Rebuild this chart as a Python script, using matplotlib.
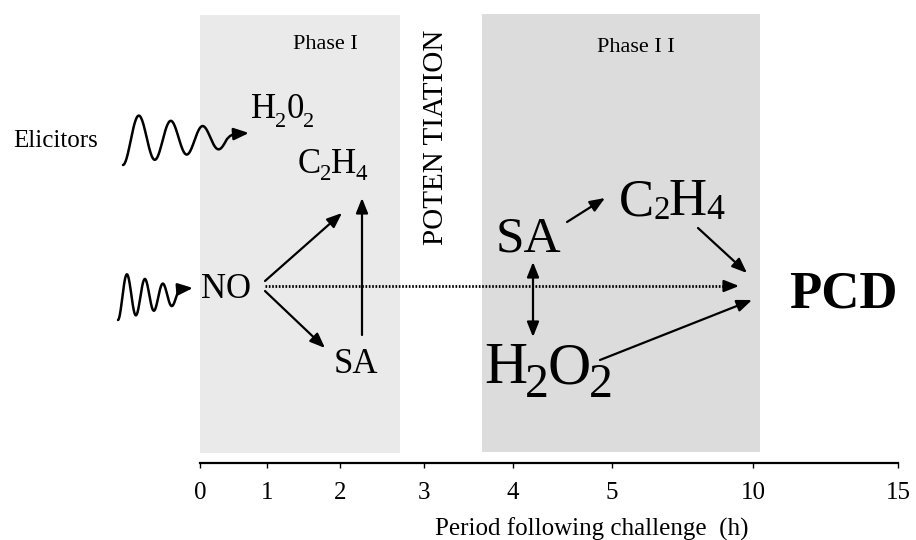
import numpy as np
import matplotlib
matplotlib.use("Agg")
import matplotlib.pyplot as plt
from matplotlib.patches import Rectangle, FancyArrowPatch
from matplotlib.path import Path
from matplotlib import transforms

plt.rcParams['font.family'] = ['Liberation Serif', 'DejaVu Serif']

# ---- data ----
tick_hours = [0, 1, 2, 3, 4, 5, 10, 15]
tick_labels = ['0', '1', '2', '3', '4', '5', '10', '15']
phase_names = ['Phase I', 'Phase I I']
phase_start_h = [0.0, 3.65]
phase_end_h = [2.71, 10.24]
phase_colors = ['#eaeaea', '#dcdcdc']
xlabel = 'Period following challenge  (h)'

# layout of the (non-linear) time axis, in pixels
W, H = 916, 540
axis_px = np.array([200, 267, 340, 424, 513, 612, 753, 898], float)
ax_left, ax_right, ax_y = 200, 898, 463

fig = plt.figure(figsize=(W / 100, H / 100), dpi=100)
ax = fig.add_axes([0, 0, 1, 1])
ax.set_xlim(0, W)
ax.set_ylim(H, 0)
ax.axis('off')
renderer = fig.canvas.get_renderer()

frac = (axis_px - ax_left) / (ax_right - ax_left)
hours = np.array(tick_hours, float)

def fwd(x):
    return np.interp(x, hours, frac)

def inv(x):
    return np.interp(x, frac, hours)

ax_t = fig.add_axes([ax_left / W, (H - ax_y) / H, (ax_right - ax_left) / W, 0.001])
ax_t.set_xscale('function', functions=(fwd, inv))
ax_t.set_xlim(0, 15)
ax_t.patch.set_visible(False)
for s in ['top', 'left', 'right']:
    ax_t.spines[s].set_visible(False)
ax_t.spines['bottom'].set_linewidth(1.6)
ax_t.set_yticks([])
ax_t.set_xticks(tick_hours)
ax_t.set_xticklabels(tick_labels, fontsize=18)
ax_t.xaxis.set_minor_locator(matplotlib.ticker.NullLocator())
ax_t.tick_params(axis='x', direction='out', length=3.5, width=1.0, pad=10)

# phase boxes (x in hours along the time axis, y in pixels)
bt = transforms.blended_transform_factory(ax_t.transData, ax.transData)
box_top = [15, 14]
box_bot = [453, 452]
for i in range(2):
    r = Rectangle((phase_start_h[i], box_top[i]), phase_end_h[i] - phase_start_h[i],
                  box_bot[i] - box_top[i], transform=bt, facecolor=phase_colors[i],
                  edgecolor='none', zorder=0)
    ax.add_patch(r)

def chem(x, y, parts, fs, tight=0.97):
    """draw a formula made of (text, size factor, drop in px) pieces"""
    for s, k, drop in parts:
        t = ax.text(x, y + drop, s, fontsize=fs * k, ha='left', va='baseline')
        bb = t.get_window_extent(renderer)
        x += bb.width * tight

# texts
ax.text(293, 49, phase_names[0], fontsize=16, ha='left', va='baseline')
ax.text(597, 52, phase_names[1], fontsize=16, ha='left', va='baseline')
ax.text(436, 137, 'POTEN TIATION', fontsize=21, rotation=90, ha='center', va='center')
ax.text(13, 147, 'Elicitors', fontsize=18, ha='left', va='baseline')
chem(251, 118, [('H', 1, 0), ('2', 0.64, 9), ('0', 1, 0), ('2', 0.64, 9)], 25)
chem(298, 173, [('C', 1, 0), ('2', 0.66, 7), ('H', 1, 0), ('4', 0.66, 7)], 25)
ax.text(201, 298, 'NO', fontsize=25, ha='left', va='baseline')
ax.text(334, 373, 'SA', fontsize=25, ha='left', va='baseline')
ax.text(496, 252, 'SA', fontsize=37, ha='left', va='baseline')
chem(619, 215, [('C', 1, 0), ('2', 0.62, 4), ('H', 1, 0), ('4', 0.68, 4)], 38)
chem(484, 383, [('H', 1, 0), ('2', 0.8, 14), ('O', 1, 0), ('2', 0.8, 14)], 43, tight=0.95)
ax.text(789, 307, 'PCD', fontsize=38, fontweight='bold', ha='left', va='baseline')
fig.text(592 / W, 1 - 536 / H, xlabel, fontsize=18, ha='center', va='baseline')

LW = 1.6
HEAD = '-|>,head_length=0.45,head_width=0.18'
def arrow(p0, p1, style=HEAD):
    a = FancyArrowPatch(p0, p1, arrowstyle=style, mutation_scale=20, lw=LW,
                        color='black', shrinkA=0, shrinkB=0, zorder=3)
    ax.add_patch(a)

def wave(x0, x1, period, c, a0, a1, tail):
    xs = np.linspace(x0, x1, 200)
    amp = a0 + (a1 - a0) * (xs - x0) / (x1 - x0)
    ys = c + amp * np.cos(2 * np.pi * (xs - x0) / period)
    verts = list(zip(xs, ys)) + tail
    p = Path(verts)
    a = FancyArrowPatch(path=p, arrowstyle=HEAD, mutation_scale=20, lw=1.8,
                        color='black', zorder=3)
    ax.add_patch(a)

# elicitor squiggles
wave(123, 227, 32, 139, 26, 9, [(230, 136), (234, 134), (249, 133)])
wave(118, 176, 18, 296, 24, 9, [(178, 292), (181, 289), (193, 288)])

# phase I arrows
arrow((265, 281), (342, 213))
arrow((265, 291), (325, 348))
arrow((362, 335), (362, 198))
ax.plot([265, 728], [286, 286], color='black', lw=2.0, linestyle=(0, (0.6, 0.6)),
        zorder=3, solid_capstyle='butt')
arrow((726, 286), (739, 286))

# phase II arrows
arrow((567, 222), (605, 198))
arrow((698, 228), (747, 273))
arrow((533, 262), (533, 337), style='<|-|>,head_length=0.45,head_width=0.18')
arrow((600, 360), (752, 300))

fig.savefig('out.png', dpi=100)
